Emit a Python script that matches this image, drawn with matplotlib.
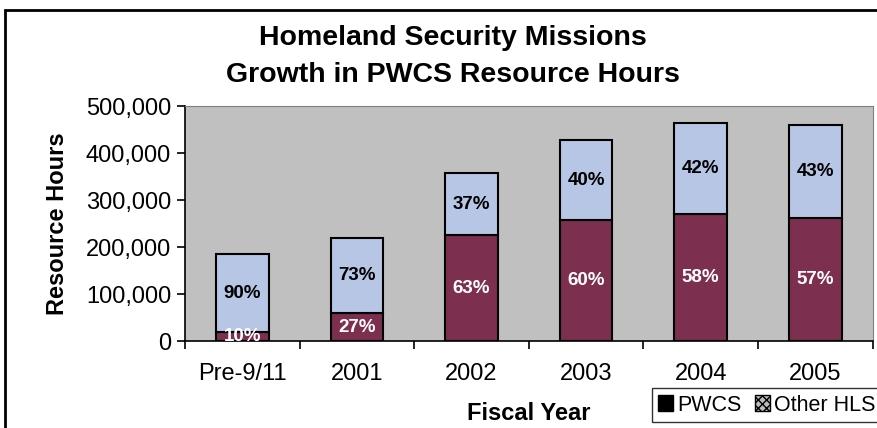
import matplotlib.pyplot as plt
from matplotlib.patches import Patch, Rectangle
from matplotlib.ticker import FuncFormatter
import numpy as np

plt.rcParams['font.family'] = ['Liberation Sans', 'DejaVu Sans']

# Resource hours by fiscal year, split into PWCS share and other HLS share
years = ["Pre-9/11", "2001", "2002", "2003", "2004", "2005"]
total_hours = np.array([185000, 219000, 358000, 428000, 465000, 460000])
pwcs_pct = np.array([10, 27, 63, 60, 58, 57])
other_pct = np.array([90, 73, 37, 40, 42, 43])

pwcs_hours = total_hours * pwcs_pct / 100
other_hours = total_hours - pwcs_hours

maroon = '#7d2f4f'
light_blue = '#b7c6e5'

fig = plt.figure(figsize=(8.77, 4.28), dpi=100)
ax = fig.add_axes([0.211, 0.203, 0.784, 0.549])
ax.set_facecolor('#c0c0c0')

x = np.arange(len(years))
w = 0.46
ax.bar(x, pwcs_hours, w, color=maroon, edgecolor='black', linewidth=1.5)
ax.bar(x, other_hours, w, bottom=pwcs_hours, color=light_blue,
       edgecolor='black', linewidth=1.5)

# percentage labels in the middle of each segment
for i in range(len(years)):
    ax.text(x[i], pwcs_hours[i] / 2, f"{pwcs_pct[i]}%", ha='center', va='center',
            color='white', fontsize=13.5, fontweight='bold')
    ax.text(x[i], pwcs_hours[i] + other_hours[i] / 2, f"{other_pct[i]}%",
            ha='center', va='center', color='black', fontsize=13.5, fontweight='bold')

ax.set_xlim(-0.5, len(years) - 0.5)
ax.set_ylim(0, 500000)
ax.set_yticks(np.arange(0, 500001, 100000))
ax.yaxis.set_major_formatter(FuncFormatter(lambda v, p: f"{int(v):,}"))
ax.set_xticks(x)
ax.set_xticklabels(years)
ax.set_xticks(np.arange(-0.5, len(years)), minor=True)
ax.tick_params(axis='x', which='major', length=0, pad=16, labelsize=17)
ax.tick_params(axis='x', which='minor', length=6, width=1.2, direction='out')
ax.tick_params(axis='y', length=6, width=1.2, labelsize=17, pad=4)

for s in ['top', 'right']:
    ax.spines[s].set_color('#808080')
for s in ['left', 'bottom']:
    ax.spines[s].set_color('black')
    ax.spines[s].set_linewidth(1.2)

ax.set_ylabel("Resource Hours", fontsize=17, fontweight='bold', labelpad=12)
ax.set_xlabel("Fiscal Year", fontsize=17, fontweight='bold', labelpad=12)

fig.text(0.516, 0.911, "Homeland Security Missions", ha='center', va='center',
         fontsize=20.5, fontweight='bold')
fig.text(0.516, 0.825, "Growth in PWCS Resource Hours", ha='center', va='center',
         fontsize=20.5, fontweight='bold')

handles = [Patch(facecolor='black', edgecolor='black'),
           Patch(facecolor='#bbbbbb', edgecolor='black', hatch='xxxx')]
leg = fig.legend(handles, ["PWCS", "Other HLS"], loc='lower left',
                 bbox_to_anchor=(0.743, 0.014), ncol=2, fontsize=15.5,
                 frameon=True, fancybox=False, edgecolor='black',
                 handlelength=0.7, handleheight=0.7, handletextpad=0.2,
                 columnspacing=0.6, borderpad=0.3, borderaxespad=0.0)
leg.get_frame().set_linewidth(1.0)

# outer frame around the chart (left and top edges show)
fig.patches.append(Rectangle((0.006, -0.05), 1.1, 1.027, transform=fig.transFigure,
                             fill=False, edgecolor='black', linewidth=2))

fig.savefig("out.png", dpi=100)
